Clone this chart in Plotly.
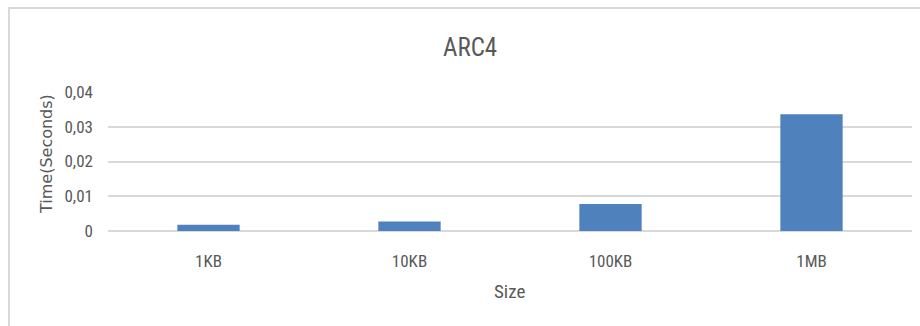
import plotly.graph_objects as go

# ARC4 encryption time by input size
sizes = ["1KB", "10KB", "100KB", "1MB"]
times = [0.0018, 0.0027, 0.0078, 0.0336]
y_ticks = [0, 0.01, 0.02, 0.03, 0.04]
y_tick_text = ["0", "0,01", "0,02", "0,03", "0,04"]

W, H = 920, 326
L, R, T, B = 108, 8, 92, 95
plot_w = W - L - R
plot_h = H - T - B

def px_x(px):
    return (px - L) / plot_w

def px_y(py):
    return (H - B - py) / plot_h

narrow = "Liberation Sans Narrow, Arial Narrow, Roboto Condensed, Open Sans, sans-serif"
text_color = "#595959"
grid_color = "#d9d9d9"

fig = go.Figure(
    go.Bar(
        x=sizes,
        y=times,
        marker=dict(color="#4f81bd", line=dict(width=0)),
    )
)

fig.update_layout(
    width=W,
    height=H,
    margin=dict(l=L, r=R, t=T, b=B),
    paper_bgcolor="white",
    plot_bgcolor="white",
    bargap=0.69,
    showlegend=False,
    font=dict(family=narrow, color=text_color, size=17),
    annotations=[
        dict(text="ARC4", x=px_x(469.5), y=px_y(47), xref="paper", yref="paper",
             showarrow=False, xanchor="center", yanchor="middle",
             font=dict(family=narrow, size=25, color=text_color)),
        dict(text="Size", x=px_x(509), y=px_y(291), xref="paper", yref="paper",
             showarrow=False, xanchor="center", yanchor="middle",
             font=dict(family=narrow, size=19, color=text_color)),
        dict(text="Time(Seconds)", x=px_x(46), y=px_y(154), xref="paper", yref="paper",
             showarrow=False, xanchor="center", yanchor="middle", textangle=-90,
             font=dict(family="DejaVu Sans, Verdana, sans-serif", size=16, color=text_color)),
    ],
    shapes=[
        dict(type="rect", xref="paper", yref="paper",
             x0=px_x(9), x1=px_x(940), y0=px_y(340), y1=px_y(8),
             line=dict(color=grid_color, width=2), fillcolor="rgba(0,0,0,0)",
             layer="below"),
    ],
)

fig.update_xaxes(
    showgrid=False,
    showline=False,
    zeroline=False,
    ticks="",
    ticklabelstandoff=18,
    tickfont=dict(family=narrow, size=17, color=text_color),
)

fig.update_yaxes(
    range=[0, 0.04],
    tickvals=y_ticks,
    ticktext=y_tick_text,
    showgrid=True,
    gridcolor=grid_color,
    gridwidth=2,
    zeroline=True,
    zerolinecolor=grid_color,
    zerolinewidth=2,
    showline=False,
    ticks="",
    ticklabelstandoff=14,
    tickfont=dict(family=narrow, size=17, color=text_color),
)

fig.write_html("out.html")
